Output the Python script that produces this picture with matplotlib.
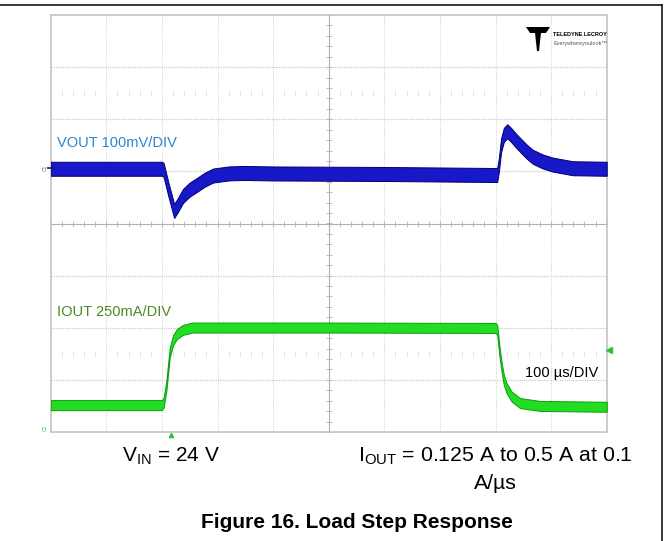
import numpy as np
import matplotlib
matplotlib.use("Agg")
import matplotlib.pyplot as plt
from matplotlib.lines import Line2D
from matplotlib.patches import Polygon

plt.rcParams['font.family'] = ['Liberation Sans', 'DejaVu Sans']
plt.rcParams['mathtext.fontset'] = 'custom'
plt.rcParams['mathtext.rm'] = 'Liberation Sans'
plt.rcParams['mathtext.it'] = 'Liberation Sans:italic'
plt.rcParams['mathtext.bf'] = 'Liberation Sans:bold'

# ---------------- data (read from the scope shot) ----------------
# time axis: 100 us/div, 10 divisions
vout_t = [0, 200, 203, 212, 222, 228, 238, 250, 263, 277, 292, 320, 346, 400, 600, 803,
          806, 810, 815, 821, 828, 836, 844, 856, 867, 885, 903, 939, 1000]
# VOUT deviation in mV (100 mV/div)
vout_mv = [5, 5, 3, -36, -76, -66, -47, -35, -26, -16, -8, -4, -3, -4, -5, -7,
           12, 50, 70, 77, 70, 60, 51, 38, 28, 19, 13, 6, 5]

iout_t = [0, 200, 203, 208, 214, 220, 227, 238, 255, 500, 800, 803, 807, 811, 815,
          820, 829, 844, 880, 1000]
# IOUT in A (250 mA/div)
iout_a = [0.129, 0.129, 0.14, 0.22, 0.38, 0.44, 0.47, 0.49, 0.501, 0.501, 0.499, 0.49,
          0.39, 0.31, 0.25, 0.21, 0.17, 0.139, 0.125, 0.121]

vout_label = "VOUT 100mV/DIV"
iout_label = "IOUT 250mA/DIV"
time_label = "100 \u00b5s/DIV"

# display settings of the scope
VOUT_SCALE = 100.0   # mV/div
VOUT_POS = 1.0       # div
IOUT_SCALE = 0.25    # A/div
IOUT_POS = -4.0      # div

W, H = 669, 541
fig = plt.figure(figsize=(W / 100, H / 100), dpi=100)

gl, gr, gt, gb = 50.7, 606.7, 15.0, 432.0
ax = fig.add_axes([gl / W, 1 - gb / H, (gr - gl) / W, (gb - gt) / H])
ax.set_xlim(0, 1000)
ax.set_ylim(-4, 4)
ax.set_xticks([])
ax.set_yticks([])
for s in ax.spines.values():
    s.set_color('#c4c4c4')
    s.set_linewidth(1.2)

# grid
for i in range(1, 10):
    if i == 5:
        continue
    ax.axvline(i * 100, color='#cdcdcd', lw=0.7, ls=(0, (1, 1.5)), zorder=1)
for j in range(-3, 4):
    if j == 0:
        continue
    ax.axhline(j, color='#cdcdcd', lw=0.9, ls=(0, (1, 0.8)), zorder=1)
ax.axvline(500, color='#b0b0b0', lw=0.8, zorder=1)
ax.axhline(0, color='#b0b0b0', lw=0.8, zorder=1)

minor_x = np.arange(0, 1001, 20)
minor_y = np.arange(-4, 4.01, 0.2)
ax.plot(minor_x, np.zeros_like(minor_x), ls='none', marker='|', ms=5, mew=0.6,
        color='#b0b0b0', zorder=1)
ax.plot(np.full_like(minor_y, 500), minor_y, ls='none', marker='_', ms=5, mew=0.6,
        color='#b0b0b0', zorder=1)
for yy in (2.5, -2.5):
    mx = np.array([x for x in minor_x if x % 100 != 0])
    ax.plot(mx, np.full_like(mx, yy, dtype=float), ls='none', marker='|', ms=4, mew=0.5,
            color='#d6d6d6', zorder=1)

# traces
vt = np.array(vout_t, float)
vd = np.array(vout_mv, float) / VOUT_SCALE + VOUT_POS
hv = 7 / 52.1
ax.fill_between(vt, vd - hv, vd + hv, color='#1818c8', edgecolor='#000070', lw=0.7, zorder=3)

it = np.array(iout_t, float)
idv = np.array(iout_a, float) / IOUT_SCALE + IOUT_POS
hi = 5 / 52.1
ax.fill_between(it, idv - hi, idv + hi, color='#22dd22', edgecolor='#0c9c0c', lw=0.7, zorder=3)

# labels inside the screen
ax.text(6 / 0.556, (223.5 - 147) / 52.1, vout_label, color='#2a86d0', fontsize=10.5,
        ha='left', va='baseline')
ax.text(6 / 0.556, (223.5 - 316) / 52.1, iout_label, color='#4a8a1e', fontsize=10.5,
        ha='left', va='baseline')
ax.text((598 - gl) / 0.556, (223.5 - 377) / 52.1, time_label, color='black', fontsize=10.5,
        ha='right', va='baseline')

# channel / trigger markers
ax.plot([0], [VOUT_POS + 0.06], marker='_', ms=6, mew=1.2, color='#1a1a6a', clip_on=False, zorder=4)
ax.text(-5, VOUT_POS + 0.06, "C1", fontsize=3.5, color='#5060a0', rotation=90,
        ha='right', va='center', clip_on=False)
ax.text(-5, -3.93, "C2", fontsize=3.5, color='#40c040', rotation=90,
        ha='right', va='center', clip_on=False)
ax.plot([216], [-4.05], marker='^', ms=3, color='#30c030', clip_on=False, zorder=4)
ax.plot([1005], [-2.43], marker='<', ms=4, color='#30c030', clip_on=False, zorder=4)

# logo
def fp(x, y):
    return (x / W, 1 - y / H)

logo = [(526, 27), (550, 27), (546, 33), (541, 33), (539, 51), (537, 51), (535, 33), (530, 33)]
fig.add_artist(Polygon([fp(*p) for p in logo], closed=True, transform=fig.transFigure,
                       facecolor='black', edgecolor='none'))
fig.text(*fp(553, 36), "TELEDYNE LECROY", fontsize=4.0, fontweight='bold',
         ha='left', va='baseline')
fig.text(*fp(553, 45), "Everywhereyoulook\u2122", fontsize=4.0, color='#555555',
         ha='left', va='baseline')

# outer frame
fig.add_artist(Line2D([0, 662 / W], [1 - 5 / H, 1 - 5 / H], color='black', lw=1.1,
                      transform=fig.transFigure))
fig.add_artist(Line2D([662 / W, 662 / W], [1 - 5 / H, 0], color='black', lw=1.1,
                      transform=fig.transFigure))

# captions
fig.text(*fp(171, 462), r"V$_{\mathrm{IN}}$ = 24 V", fontsize=15, ha='center', va='baseline')
fig.text(*fp(495, 462), r"I$_{\mathrm{OUT}}$ = 0.125 A to 0.5 A at 0.1", fontsize=15.3,
         ha='center', va='baseline')
fig.text(*fp(495, 489), "A/\u00b5s", fontsize=15.3, ha='center', va='baseline')
fig.text(*fp(357, 528), "Figure 16. Load Step Response", fontsize=15, fontweight='bold',
         ha='center', va='baseline')

fig.savefig("out.png", dpi=100)
